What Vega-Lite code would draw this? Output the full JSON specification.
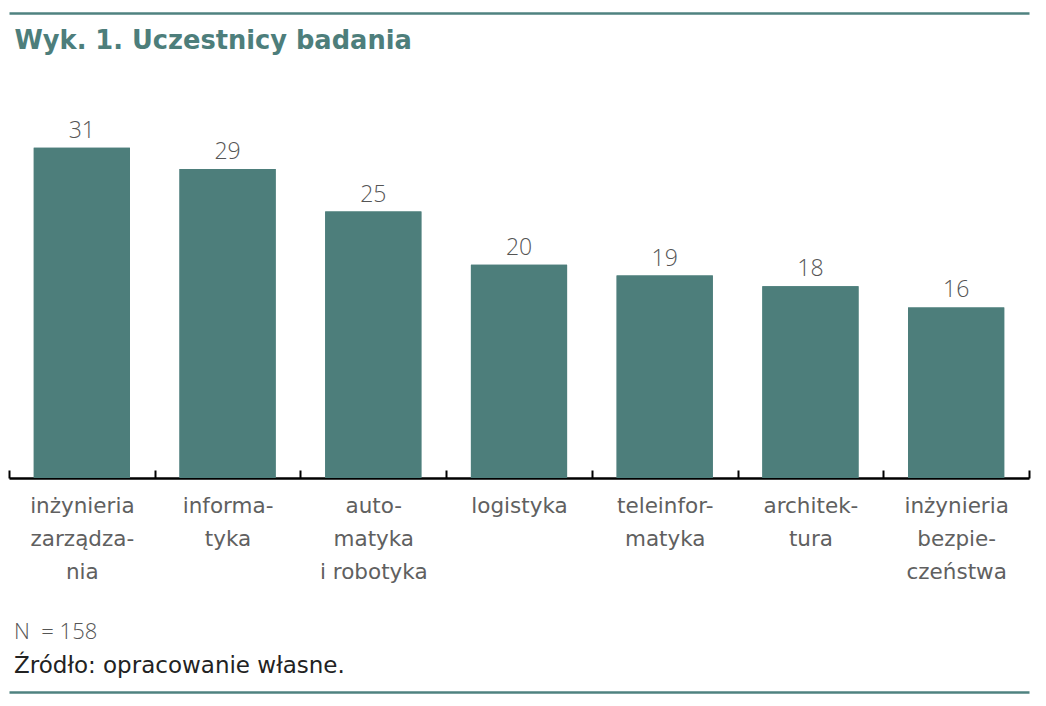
{
  "$schema": "https://vega.github.io/schema/vega-lite/v6.json",
  "width": 1020,
  "height": 373,
  "autosize": {"type": "none"},
  "padding": {"left": 9, "top": 105, "right": 17, "bottom": 228},
  "background": "white",
  "data": {
    "values": [
      {"kierunek": "inżynieria|zarządza-|nia", "liczba": 31},
      {"kierunek": "informa-|tyka", "liczba": 29},
      {"kierunek": "auto-|matyka|i robotyka", "liczba": 25},
      {"kierunek": "logistyka", "liczba": 20},
      {"kierunek": "teleinfor-|matyka", "liczba": 19},
      {"kierunek": "architek-|tura", "liczba": 18},
      {"kierunek": "inżynieria|bezpie-|czeństwa", "liczba": 16}
    ]
  },
  "title": {
    "text": "N\u00a0 = 158",
    "subtitle": "Źródło: opracowanie własne.",
    "orient": "bottom",
    "anchor": "start",
    "frame": "group",
    "offset": -70,
    "dx": 5,
    "font": "Open Sans",
    "fontSize": 22,
    "fontWeight": 300,
    "color": "#555555",
    "subtitleFont": "DejaVu Sans",
    "subtitleFontSize": 23,
    "subtitleFontWeight": 400,
    "subtitleColor": "#222222",
    "subtitlePadding": 11
  },
  "layer": [
    {
      "mark": {"type": "bar", "color": "#4d7e7b", "width": {"band": 0.66}},
      "encoding": {
        "x": {
          "field": "kierunek",
          "type": "nominal",
          "sort": null,
          "scale": {"paddingInner": 0, "paddingOuter": 0},
          "axis": {
            "orient": "bottom",
            "title": null,
            "labelExpr": "split(datum.label, '|')",
            "labelAngle": 0,
            "labelFont": "DejaVu Sans",
            "labelFontWeight": 400,
            "labelFontSize": 21.5,
            "labelColor": "#606060",
            "labelLineHeight": 33,
            "labelPadding": 25,
            "domainColor": "#000000",
            "domainWidth": 2.5,
            "ticks": true,
            "tickBand": "extent",
            "tickSize": -8,
            "tickWidth": 2,
            "tickColor": "#000000"
          }
        },
        "y": {
          "field": "liczba",
          "type": "quantitative",
          "scale": {"domain": [0, 35]},
          "axis": null
        }
      }
    },
    {
      "mark": {
        "type": "text",
        "dy": -10,
        "baseline": "alphabetic",
        "font": "Open Sans",
        "fontWeight": 300,
        "fontSize": 23,
        "color": "#555555"
      },
      "encoding": {
        "x": {
          "field": "kierunek",
          "type": "nominal",
          "sort": null,
          "axis": {
            "orient": "top",
            "offset": 92,
            "labels": false,
            "ticks": false,
            "domainColor": "#4f8280",
            "domainWidth": 2.5,
            "title": "Wyk. 1. Uczestnicy badania",
            "titleFont": "DejaVu Sans",
            "titleFontWeight": 600,
            "titleFontSize": 25.7,
            "titleColor": "#4d7e7b",
            "titleAnchor": "start",
            "titleAlign": "left",
            "titleBaseline": "alphabetic",
            "titleX": 5,
            "titleY": 35
          }
        },
        "y": {"field": "liczba", "type": "quantitative"},
        "text": {"field": "liczba", "type": "quantitative"}
      }
    },
    {
      "mark": {"type": "bar", "color": "#4d7e7b", "width": {"band": 0.66}},
      "encoding": {
        "x": {
          "field": "kierunek",
          "type": "nominal",
          "sort": null,
          "axis": {
            "orient": "bottom",
            "offset": 214,
            "labels": false,
            "ticks": false,
            "title": null,
            "domainColor": "#4f8280",
            "domainWidth": 2.5
          }
        },
        "y": {"field": "liczba", "type": "quantitative"}
      }
    }
  ],
  "resolve": {"axis": {"x": "independent"}},
  "config": {"view": {"stroke": null}}
}
